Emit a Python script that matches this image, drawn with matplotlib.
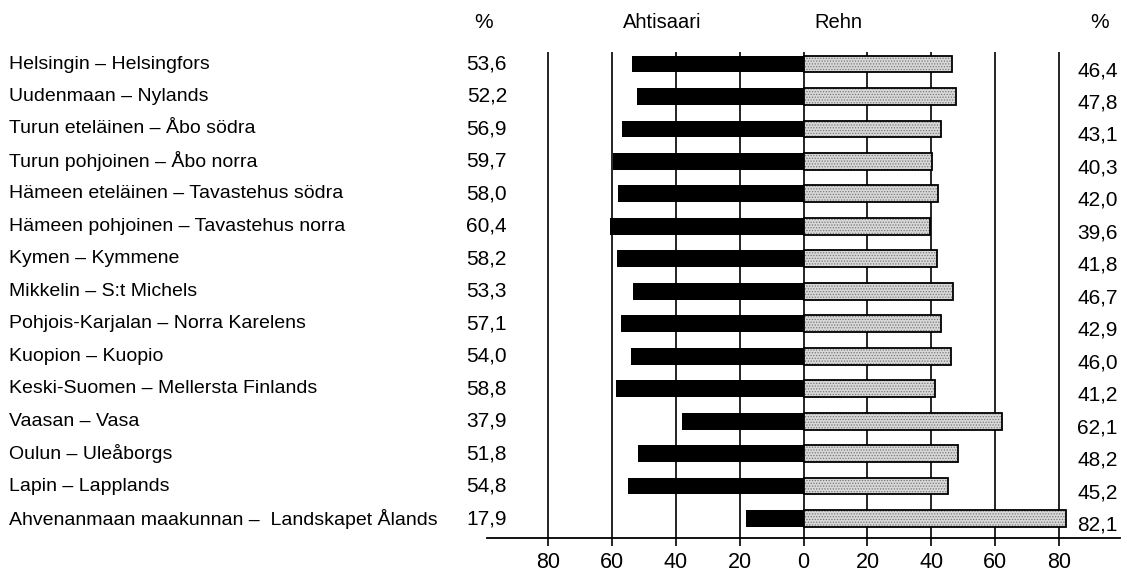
import matplotlib.pyplot as plt
from matplotlib import transforms

# Vaalipiirit, Ahtisaari / Rehn %
regions = [
    "Helsingin – Helsingfors",
    "Uudenmaan – Nylands",
    "Turun eteläinen – Åbo södra",
    "Turun pohjoinen – Åbo norra",
    "Hämeen eteläinen – Tavastehus södra",
    "Hämeen pohjoinen – Tavastehus norra",
    "Kymen – Kymmene",
    "Mikkelin – S:t Michels",
    "Pohjois-Karjalan – Norra Karelens",
    "Kuopion – Kuopio",
    "Keski-Suomen – Mellersta Finlands",
    "Vaasan – Vasa",
    "Oulun – Uleåborgs",
    "Lapin – Lapplands",
    "Ahvenanmaan maakunnan –  Landskapet Ålands",
]
ahtisaari = [53.6, 52.2, 56.9, 59.7, 58.0, 60.4, 58.2, 53.3, 57.1, 54.0, 58.8, 37.9, 51.8, 54.8, 17.9]
rehn = [46.4, 47.8, 43.1, 40.3, 42.0, 39.6, 41.8, 46.7, 42.9, 46.0, 41.2, 62.1, 48.2, 45.2, 82.1]
ticks = [-80, -60, -40, -20, 0, 20, 40, 60, 80]

font = ["Liberation Sans", "DejaVu Sans"]
plt.rcParams["hatch.linewidth"] = 0.6


def fmt(v):
    return f"{v:.1f}".replace(".", ",")


W, H = 1127, 572
fig = plt.figure(figsize=(W / 100, H / 100), dpi=100)
ax = fig.add_axes([487 / W, 34 / H, (1120 - 487) / W, (538 - 52) / H])

y = list(range(len(regions)))
ax.barh(y, [-v for v in ahtisaari], height=0.52, color="black", zorder=3)
ax.barh(y, rehn, height=0.52, color="#d8d8d8", hatch="......",
        edgecolor="#777777", linewidth=0, zorder=3)
ax.barh(y, rehn, height=0.52, fill=False, edgecolor="black", linewidth=1.3, zorder=4)

ax.set_xlim(-99, 99)
ax.set_ylim(14.6, -0.37)
ax.set_xticks(ticks)
ax.set_xticklabels([str(abs(t)) for t in ticks], family=font, fontsize=15.5)
ax.tick_params(axis="x", direction="out", length=6, width=1.2, pad=4, color="black")
ax.set_yticks([])
ax.grid(axis="x", color="black", linewidth=1.2)
ax.set_axisbelow(True)
for side in ["top", "left", "right"]:
    ax.spines[side].set_visible(False)
ax.spines["bottom"].set_linewidth(1.3)

tr = transforms.blended_transform_factory(fig.transFigure, ax.transData)
for i, name in enumerate(regions):
    ax.text(9 / W, i, name, transform=tr, ha="left", va="center",
            family=font, fontsize=14)
    ax.text(507 / W, i, fmt(ahtisaari[i]), transform=tr, ha="right", va="center",
            family=font, fontsize=15)
    ax.text(1077 / W, i + 0.2, fmt(rehn[i]), transform=tr, ha="left", va="center",
            family=font, fontsize=15)

top = 1 - 23 / H
fig.text(484 / W, top, "%", ha="center", va="center", family=font, fontsize=15)
fig.text(662 / W, top, "Ahtisaari", ha="center", va="center", family=font, fontsize=14.5)
fig.text(838 / W, top, "Rehn", ha="center", va="center", family=font, fontsize=14.5)
fig.text(1100 / W, top, "%", ha="center", va="center", family=font, fontsize=15)

fig.savefig("out.png", dpi=100)
